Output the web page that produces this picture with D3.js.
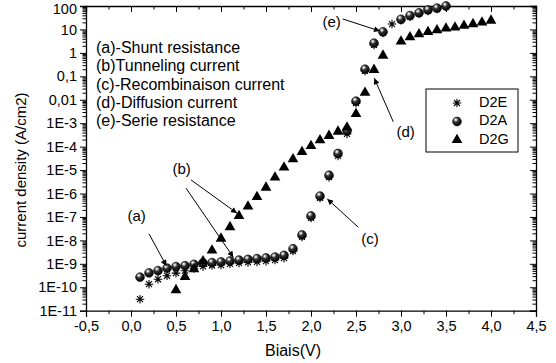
<!DOCTYPE html>
<html>
<head>
<meta charset="utf-8">
<script src="https://cdn.jsdelivr.net/npm/d3@7"></script>
<style>
  body { margin: 0; background: #fff; }
  text { font-family: Arial, "Liberation Sans", sans-serif; fill: #000; }
</style>
</head>
<body>
<div id="chart"></div>
<script>
// bias (V) and current density (A/cm2)
const biasE = [0.1,0.2,0.3,0.4,0.5,0.6,0.7,0.8,0.9,1.0,1.1,1.2,1.3,1.4,1.5,1.6,1.7,1.8,1.9,2.0,
  2.1,2.2,2.3,2.4,2.5,2.6,2.7,2.8,2.9,3.0,3.1,3.2,3.3,3.4,3.5];
const d2E = [3.1e-11,1.35e-10,2.2e-10,3.1e-10,4.0e-10,5.1e-10,6.3e-10,7.8e-10,8.5e-10,8.9e-10,
  1.0e-9,1.1e-9,1.15e-9,1.2e-9,1.3e-9,1.45e-9,1.75e-9,3.5e-9,1.4e-8,9.1e-8,
  6.5e-7,5.0e-6,4.0e-5,3.5e-4,7.2e-3,0.17,2.2,7.1,17,25,35,48,62,74,91];

const biasA = [0.1,0.2,0.3,0.4,0.5,0.6,0.7,0.8,0.9,1.0,1.1,1.2,1.3,1.4,1.5,1.6,1.7,1.8,1.9,2.0,
  2.1,2.2,2.3,2.4,2.5,2.6,2.7,2.8,3.0,3.1,3.2,3.3,3.4,3.5];
const d2A = [2.7e-10,4.1e-10,5.1e-10,6.5e-10,7.6e-10,8.3e-10,9.5e-10,1.1e-9,1.12e-9,1.2e-9,
  1.32e-9,1.45e-9,1.55e-9,1.66e-9,1.78e-9,1.95e-9,2.3e-9,4.4e-9,1.7e-8,1.1e-7,
  7.8e-7,6.0e-6,5.1e-5,4.7e-4,8.7e-3,0.2,2.6,7.9,27,39,51,68,81,100];

const biasG = [0.5,0.6,0.7,0.8,0.9,1.0,1.1,1.2,1.3,1.4,1.5,1.6,1.7,1.8,1.9,2.0,
  2.1,2.2,2.3,2.4,2.5,2.6,2.7,2.8,3.0,3.1,3.2,3.3,3.4,3.5,3.6,3.7,3.8,3.9,4.0];
const d2G = [7.6e-11,2.8e-10,5.9e-10,1.3e-9,3.7e-9,1.2e-8,3.7e-8,1.1e-7,2.8e-7,7.2e-7,
  1.8e-6,4.9e-6,1.3e-5,2.9e-5,6.0e-5,1.07e-4,1.9e-4,2.9e-4,4.4e-4,6.6e-4,
  2.5e-3,0.02,0.19,0.77,3.1,4.7,6.3,7.9,9.3,11,12.3,14.5,17,20,24];

const xTicks = [-0.5,0,0.5,1,1.5,2,2.5,3,3.5,4,4.5];
const xTickLabels = ["-0,5","0,0","0,5","1,0","1,5","2,0","2,5","3,0","3,5","4,0","4,5"];
const yTicks = [100,10,1,0.1,0.01,1e-3,1e-4,1e-5,1e-6,1e-7,1e-8,1e-9,1e-10,1e-11];
const yTickLabels = ["100","10","1","0,1","0,01","1E-3","1E-4","1E-5","1E-6","1E-7","1E-8","1E-9","1E-10","1E-11"];

const notes = ["(a)-Shunt resistance","(b)Tunneling current","(c)-Recombinaison current",
  "(d)-Diffusion current","(e)-Serie resistance"];
const seriesNames = ["D2E", "D2A", "D2G"];

// annotation arrows, in data units: [label, labelV, labelJ, fromV, fromJ, toV, toJ]
const arrows = [
  ["(a)", 0.063, 1e-7, 0.2, 1.9e-8, 0.394, 8.1e-10],
  ["(b)", 0.563, 1e-5, 0.667, 3.8e-6, 1.178, 1.45e-7],
  ["", 0, 0, 0.611, 1.7e-6, 1.137, 1.9e-9],
  ["(c)", 2.656, 1.05e-8, 2.526, 3.6e-8, 2.181, 5.9e-7],
  ["(d)", 3.052, 3.7e-4, 2.914, 1.15e-3, 2.703, 0.083],
  ["(e)", 2.23, 18, 2.352, 28, 2.767, 8.5]
];

const W = 556, H = 363;
const margin = { top: 6, right: 20, bottom: 52.3, left: 86 };
const width = W - margin.left - margin.right;
const height = H - margin.top - margin.bottom;

const svg = d3.select("#chart").append("svg")
  .attr("width", W).attr("height", H)
  .style("display", "block");

const defs = svg.append("defs");
const grad = defs.append("radialGradient").attr("id", "ball")
  .attr("cx", "36%").attr("cy", "30%").attr("r", "70%");
grad.append("stop").attr("offset", "0%").attr("stop-color", "#fff");
grad.append("stop").attr("offset", "14%").attr("stop-color", "#ccc");
grad.append("stop").attr("offset", "40%").attr("stop-color", "#333");
grad.append("stop").attr("offset", "100%").attr("stop-color", "#000");

defs.append("marker").attr("id", "head")
  .attr("viewBox", "0 0 10 10").attr("refX", 10).attr("refY", 5)
  .attr("markerWidth", 7).attr("markerHeight", 6)
  .attr("markerUnits", "userSpaceOnUse")
  .attr("orient", "auto")
  .append("path").attr("d", "M0,0 L10,5 L0,10 Z").attr("fill", "#000");

const g = svg.append("g").attr("transform", `translate(${margin.left},${margin.top})`);

const x = d3.scaleLinear().domain([-0.5, 4.5]).range([0, width]);
const y = d3.scaleLog().domain([1e-11, 100]).range([height, 0]);

// minor log ticks
const minorY = [];
for (let e = -11; e < 2; e++) for (let k = 2; k <= 9; k++) minorY.push(k * Math.pow(10, e));
const minorX = d3.range(-0.25, 4.5, 0.5);

// axes
const fmtX = d => xTickLabels[xTicks.indexOf(d)];
const fmtY = d => yTickLabels[yTicks.indexOf(d)];

g.append("g").attr("transform", `translate(0,${height})`)
  .call(d3.axisBottom(x).tickValues(xTicks).tickFormat(fmtX).tickSize(6).tickPadding(4))
  .call(a => a.selectAll("text").attr("font-size", 14.5));
g.append("g").attr("transform", `translate(0,${height})`)
  .call(d3.axisBottom(x).tickValues(minorX).tickFormat("").tickSize(3.5))
  .call(a => a.select(".domain").remove());

g.append("g")
  .call(d3.axisTop(x).tickValues(xTicks).tickFormat("").tickSize(-6));
g.append("g")
  .call(d3.axisTop(x).tickValues(minorX).tickFormat("").tickSize(-3.5))
  .call(a => a.select(".domain").remove());

g.append("g")
  .call(d3.axisLeft(y).tickValues(yTicks).tickFormat(fmtY).tickSize(6).tickPadding(3))
  .call(a => a.selectAll("text").attr("font-size", 14.5))
  .call(a => a.selectAll("text").filter(d => d === 100).attr("dy", "0.5em"));
g.append("g")
  .call(d3.axisLeft(y).tickValues(minorY).tickFormat("").tickSize(3.5))
  .call(a => a.select(".domain").remove());

g.append("g").attr("transform", `translate(${width},0)`)
  .call(d3.axisRight(y).tickValues(yTicks).tickFormat("").tickSize(-6));
g.append("g").attr("transform", `translate(${width},0)`)
  .call(d3.axisRight(y).tickValues(minorY).tickFormat("").tickSize(-3.5))
  .call(a => a.select(".domain").remove());

g.selectAll(".domain").attr("stroke", "#000").attr("stroke-width", 1.3);
g.selectAll(".tick line").attr("stroke", "#000").attr("stroke-width", 1);

// axis titles
svg.append("text")
  .attr("transform", `translate(22,170) rotate(-90)`)
  .attr("text-anchor", "middle").attr("dominant-baseline", "middle")
  .attr("font-size", 15).text("current density (A/cm2)");
svg.append("text")
  .attr("x", margin.left + x(1.8)).attr("y", 356)
  .attr("text-anchor", "middle").attr("font-size", 16).text("Biais(V)");

// note block
g.append("g").selectAll("text").data(notes).join("text")
  .attr("x", 10).attr("y", (d, i) => 47 + i * 18.3)
  .attr("font-size", 16).text(d => d);

// series
const starPath = (r) => `M0,${-r}V${r}M${-r},0H${r}M${-r * 0.7},${-r * 0.7}L${r * 0.7},${r * 0.7}M${-r * 0.7},${r * 0.7}L${r * 0.7},${-r * 0.7}`;
const triangle = d3.symbol().type(d3.symbolTriangle).size(50);

const ptsE = biasE.map((v, i) => [v, d2E[i]]);
const ptsA = biasA.map((v, i) => [v, d2A[i]]);
const ptsG = biasG.map((v, i) => [v, d2G[i]]);

g.append("g").selectAll("path").data(ptsE).join("path")
  .attr("transform", d => `translate(${x(d[0])},${y(d[1])})`)
  .attr("d", starPath(4.3)).attr("stroke", "#000").attr("stroke-width", 1.1).attr("fill", "none");

g.append("g").selectAll("circle").data(ptsA).join("circle")
  .attr("cx", d => x(d[0])).attr("cy", d => y(d[1])).attr("r", 4.4)
  .attr("fill", "url(#ball)").attr("stroke", "#000").attr("stroke-width", 0.6);

g.append("g").selectAll("path").data(ptsG).join("path")
  .attr("transform", d => `translate(${x(d[0])},${y(d[1])})`)
  .attr("d", triangle).attr("fill", "#000");

// annotation arrows
const ann = g.append("g");
ann.selectAll("line").data(arrows).join("line")
  .attr("x1", d => x(d[3])).attr("y1", d => y(d[4]))
  .attr("x2", d => x(d[5])).attr("y2", d => y(d[6]))
  .attr("stroke", "#000").attr("stroke-width", 1)
  .attr("marker-end", "url(#head)");
ann.selectAll("text").data(arrows.filter(d => d[0])).join("text")
  .attr("x", d => x(d[1])).attr("y", d => y(d[2]))
  .attr("text-anchor", "middle").attr("dominant-baseline", "middle")
  .attr("font-size", 15).text(d => d[0]);

// legend
const legend = g.append("g").attr("transform", "translate(340,83)");
legend.append("rect").attr("width", 92).attr("height", 63)
  .attr("fill", "#fff").attr("stroke", "#000").attr("stroke-width", 1);
const li = legend.selectAll("g.item").data(seriesNames).join("g").attr("class", "item")
  .attr("transform", (d, i) => `translate(31,${14 + i * 18.5})`);
li.filter((d, i) => i === 0).append("path").attr("d", starPath(4.3))
  .attr("stroke", "#000").attr("stroke-width", 1.1).attr("fill", "none");
li.filter((d, i) => i === 1).append("circle").attr("r", 4.4)
  .attr("fill", "url(#ball)").attr("stroke", "#000").attr("stroke-width", 0.6);
li.filter((d, i) => i === 2).append("path").attr("d", triangle).attr("fill", "#000");
li.append("text").attr("x", 22).attr("dominant-baseline", "middle")
  .attr("font-size", 14.5).text(d => d);
</script>
</body>
</html>
